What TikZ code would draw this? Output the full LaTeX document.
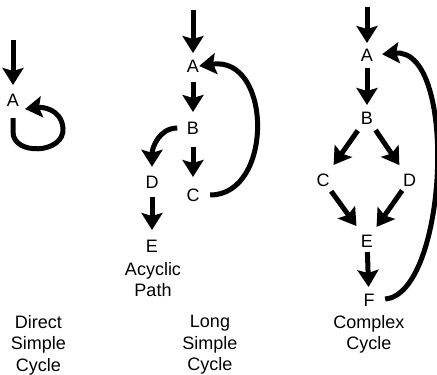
\documentclass[tikz,border=0pt]{standalone}
\usepackage{fontspec}
\setmainfont{Liberation Sans}
\usetikzlibrary{arrows.meta,calc}

\tikzset{
  letter/.style={font=\fontsize{18}{22}\selectfont, inner sep=0pt,
                 text height=13pt, text depth=0pt},
  caption/.style={font=\fontsize{18}{21.5}\selectfont, inner sep=0pt,
                  align=center, anchor=north},
  arr/.style={line width=5pt,
              -{Stealth[length=17pt,width=21pt,inset=3pt]}},
}

\begin{document}
\begin{tikzpicture}[x=1pt,y=-1pt]
  \useasboundingbox (0,0) rectangle (437,375);

  % ---- direct simple cycle ----
  \node[letter] (A1) at (13,100) {A};
  \coordinate (s1) at (13,40);
  \draw[arr, shorten >=15pt] (s1) -- (A1.center);
  \draw[arr] ($(A1)+(0,18)$) -- ($(A1)+(0,32)$)
    .. controls ($(A1)+(0,56)$) and ($(A1)+(52,54)$) .. ($(A1)+(50,28)$)
    .. controls ($(A1)+(48,8)$) and ($(A1)+(28,7)$) .. ($(A1)+(12,9)$);
  \node[caption] (t1) at (38.5,315) {Direct\\Simple\\Cycle};

  % ---- long simple cycle with an acyclic branch ----
  \node[letter] (A2) at (193,66) {A};
  \node[letter] (B2) at (193,128) {B};
  \node[letter] (C2) at (193,195) {C};
  \node[letter] (D2) at (152,181.5) {D};
  \node[letter] (E2) at (152,246) {E};
  \coordinate (s2) at (193,10);
  \draw[arr, shorten >=13pt] (s2) -- (A2.center);
  \draw[arr, shorten <=16pt, shorten >=16pt] (A2.center) -- (B2.center);
  \draw[arr, shorten <=19pt, shorten >=18pt] (B2.center) -- (C2.center);
  \draw[arr, shorten <=15.5pt, shorten >=16pt] (D2.center) -- (E2.center);
  \draw[arr, shorten <=9.5pt, shorten >=8pt]
    (B2.west) to[out=180, in=90, looseness=1.2] (D2.north);
  \draw[arr, shorten <=10.5pt, shorten >=0pt]
    (C2.east) to[out=0, in=8, out distance=74pt, in distance=74pt] (A2.east);
  \node[caption] (t2a) at (153,262) {Acyclic\\Path};
  \node[caption] (t2) at (210,315) {Long\\Simple\\Cycle};

  % ---- complex cycle ----
  \node[letter] (A3) at (367,55) {A};
  \node[letter] (B3) at (367,117.5) {B};
  \node[letter] (C3) at (323,180) {C};
  \node[letter] (D3) at (409.5,180) {D};
  \node[letter] (E3) at (367,240.5) {E};
  \node[letter] (F3) at (369,300) {F};
  \coordinate (s3) at (367,7);
  \draw[arr, shorten >=12pt] (s3) -- (A3.center);
  \draw[arr, shorten <=13pt, shorten >=12.5pt] (A3.center) -- (B3.center);
  \draw[arr, shorten <=16pt, shorten >=18.4pt] (B3.center) -- (C3.center);
  \draw[arr, shorten <=15.2pt, shorten >=18pt] (B3.center) -- (D3.center);
  \draw[arr, shorten <=13.9pt, shorten >=17.9pt] (C3.center) -- (E3.center);
  \draw[arr, shorten <=12.8pt, shorten >=16.6pt] (D3.center) -- (E3.center);
  \draw[arr, shorten <=11.5pt, shorten >=13pt] (E3.center) -- (F3.center);
  \draw[arr, shorten <=10.5pt, shorten >=9pt]
    (F3.east) to[out=5, in=5, out distance=73pt, in distance=86pt] (A3.east);
  \node[caption] (t3) at (369,315) {Complex\\Cycle};
\end{tikzpicture}
\end{document}
